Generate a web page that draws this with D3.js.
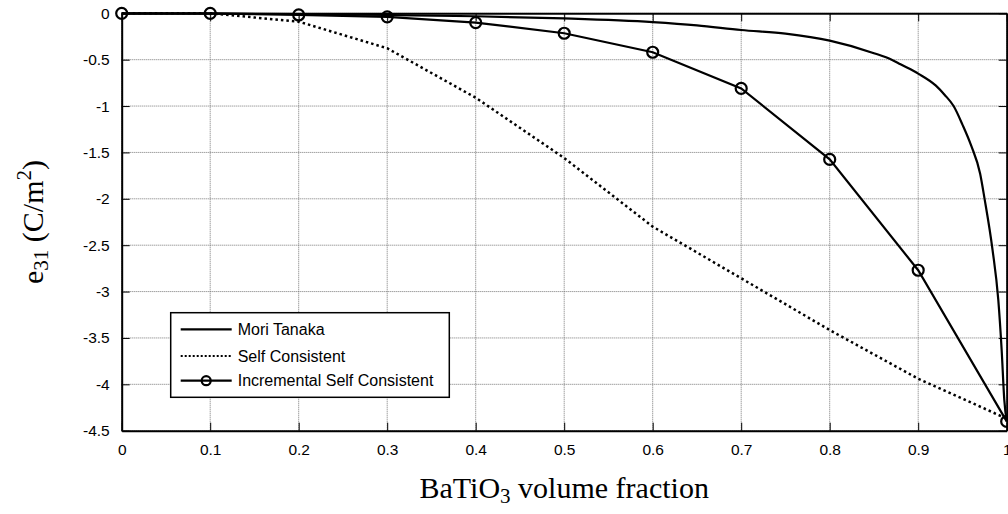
<!DOCTYPE html>
<html><head><meta charset="utf-8">
<script src="https://cdn.jsdelivr.net/npm/d3@7"></script>
<style>body{margin:0;background:#fff}svg{display:block}</style>
</head><body>
<script>
const xTicks = [0,0.1,0.2,0.3,0.4,0.5,0.6,0.7,0.8,0.9,1];
const xTickLabels = ["0","0.1","0.2","0.3","0.4","0.5","0.6","0.7","0.8","0.9","1"];
const yTicks = [0,-0.5,-1,-1.5,-2,-2.5,-3,-3.5,-4,-4.5];
const yTickLabels = ["0","-0.5","-1","-1.5","-2","-2.5","-3","-3.5","-4","-4.5"];

const mtX = [0,0.1,0.2,0.3,0.4,0.5,0.6,0.65,0.7,0.75,0.8,0.85,0.87,0.88,0.9,0.92,0.93,0.94,0.95,0.96,0.97,0.975,0.984,0.9905,0.9943,0.9973,1.0];
const mtY = [0,-0.002,-0.008,-0.018,-0.032,-0.055,-0.095,-0.13,-0.18,-0.22,-0.295,-0.43,-0.50,-0.55,-0.65,-0.78,-0.88,-1.0,-1.2,-1.43,-1.73,-2.0,-2.55,-3.09,-3.63,-4.17,-4.4];

const scX = [0,0.1,0.2,0.3,0.4,0.5,0.6,0.7,0.8,0.9,1.0];
const scY = [0,0,-0.09,-0.377,-0.91,-1.56,-2.30,-2.857,-3.415,-3.94,-4.37];

const iscX = [0,0.1,0.2,0.3,0.4,0.5,0.6,0.7,0.8,0.9,1.0];
const iscY = [0,0,-0.018,-0.038,-0.10,-0.215,-0.42,-0.81,-1.575,-2.77,-4.40];

const seriesNames = ["Mori Tanaka","Self Consistent","Incremental Self Consistent"];

const W = 1008, H = 514;
const L = 121.7, R = 1006.7, T = 13.3, B = 430.7;

const svg = d3.select("body").append("svg").attr("width",W).attr("height",H);
const x = d3.scaleLinear().domain([0,1]).range([L,R]);
const y = d3.scaleLinear().domain([-4.5,0]).range([B,T]);

// grid
const grid = svg.append("g");
grid.selectAll("line.gx").data(xTicks).enter().append("line")
  .attr("x1",d=>x(d)).attr("x2",d=>x(d)).attr("y1",T).attr("y2",B)
  .attr("stroke","#777").attr("stroke-width",1).attr("stroke-dasharray","1,1");
grid.selectAll("line.gy").data(yTicks).enter().append("line")
  .attr("y1",d=>y(d)).attr("y2",d=>y(d)).attr("x1",L).attr("x2",R)
  .attr("stroke","#777").attr("stroke-width",1).attr("stroke-dasharray","1,1");

// axes
const tickLen = 8;
const fmtX = (d,i)=>xTickLabels[i];
const fmtY = (d,i)=>yTickLabels[i];
const axB = svg.append("g").attr("transform",`translate(0,${B})`)
  .call(d3.axisBottom(x).tickValues(xTicks).tickFormat(fmtX).tickSizeInner(-tickLen).tickSizeOuter(0).tickPadding(tickLen+5));
const axT = svg.append("g").attr("transform",`translate(0,${T})`)
  .call(d3.axisTop(x).tickValues(xTicks).tickFormat("").tickSizeInner(-tickLen).tickSizeOuter(0));
const axL = svg.append("g").attr("transform",`translate(${L},0)`)
  .call(d3.axisLeft(y).tickValues(yTicks).tickFormat(fmtY).tickSizeInner(-tickLen).tickSizeOuter(0).tickPadding(tickLen+4));
const axR = svg.append("g").attr("transform",`translate(${R},0)`)
  .call(d3.axisRight(y).tickValues(yTicks).tickFormat("").tickSizeInner(-tickLen).tickSizeOuter(0));
[axB,axT,axL,axR].forEach(a=>{
  a.select(".domain").attr("stroke","#000").attr("stroke-width",2);
  a.selectAll(".tick line").attr("stroke","#000").attr("stroke-width",1);
  a.selectAll("text").attr("font-family","Liberation Sans, Arial, sans-serif").attr("font-size",15.5).attr("fill","#000");
});

// lines
const mt = mtX.map((v,i)=>[v,mtY[i]]);
const sc = scX.map((v,i)=>[v,scY[i]]);
const isc = iscX.map((v,i)=>[v,iscY[i]]);
const line = d3.line().x(d=>x(d[0])).y(d=>y(d[1]));
const smooth = d3.line().x(d=>x(d[0])).y(d=>y(d[1])).curve(d3.curveMonotoneX);
const plot = svg.append("g");
plot.append("path").datum(sc).attr("d",line).attr("fill","none").attr("stroke","#000").attr("stroke-width",2.5).attr("stroke-dasharray","2.5,3");
plot.append("path").datum(mt).attr("d",smooth).attr("fill","none").attr("stroke","#000").attr("stroke-width",2.2);
plot.append("path").datum(isc).attr("d",line).attr("fill","none").attr("stroke","#000").attr("stroke-width",2.2);
plot.selectAll("circle").data(isc).enter().append("circle")
  .attr("cx",d=>x(d[0])).attr("cy",d=>y(d[1])).attr("r",5.5)
  .attr("fill","none").attr("stroke","#000").attr("stroke-width",2.2);

// legend
const lg = svg.append("g");
lg.append("rect").attr("x",170.7).attr("y",312.7).attr("width",278.6).attr("height",84.6)
  .attr("fill","#fff").attr("stroke","#000").attr("stroke-width",1.5);
const rowsY = [329.3,356,380.7];
const styles = [{dash:null,marker:false},{dash:"2,2",marker:false},{dash:null,marker:true}];
seriesNames.forEach((n,i)=>{
  const l = lg.append("line").attr("x1",180.7).attr("x2",231.7).attr("y1",rowsY[i]).attr("y2",rowsY[i])
    .attr("stroke","#000").attr("stroke-width",2.2);
  if(styles[i].dash) l.attr("stroke-dasharray",styles[i].dash).attr("stroke-width",2);
  if(styles[i].marker) lg.append("circle").attr("cx",206.2).attr("cy",rowsY[i]).attr("r",4.5)
    .attr("fill","none").attr("stroke","#000").attr("stroke-width",2.2);
  lg.append("text").attr("x",237.7).attr("y",rowsY[i]).attr("dy","0.36em")
    .attr("font-family","Liberation Sans, Arial, sans-serif").attr("font-size",16).text(n);
});

// axis labels
const xl = svg.append("text").attr("x",(L+R)/2).attr("y",498).attr("text-anchor","middle")
  .attr("font-family","Liberation Serif, Times New Roman, serif").attr("font-size",30);
xl.append("tspan").text("BaTiO");
xl.append("tspan").attr("baseline-shift","-25%").attr("font-size",21).text("3");
xl.append("tspan").text(" volume fraction");

const yl = svg.append("text").attr("transform",`translate(43,${(T+B)/2}) rotate(-90)`).attr("text-anchor","middle")
  .attr("font-family","Liberation Serif, Times New Roman, serif").attr("font-size",30);
yl.append("tspan").text("e");
yl.append("tspan").attr("baseline-shift","-25%").attr("font-size",21).text("31");
yl.append("tspan").text(" (C/m");
yl.append("tspan").attr("baseline-shift","super").attr("font-size",21).text("2");
yl.append("tspan").text(")");
</script>
</body></html>
